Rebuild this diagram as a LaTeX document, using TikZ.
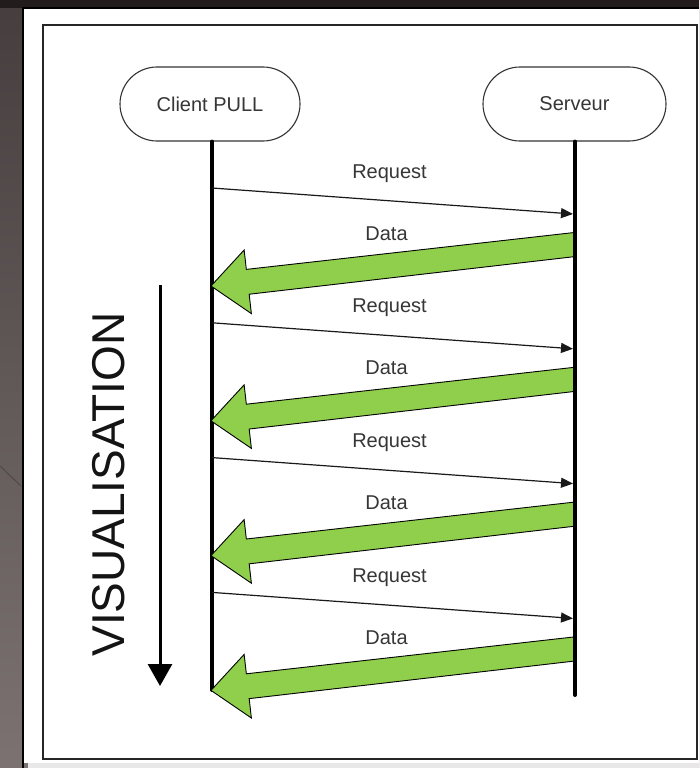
\documentclass[tikz,border=0pt]{standalone}
\usepackage{fontspec}
\setmainfont{Liberation Sans}
\usetikzlibrary{arrows.meta,calc,shapes.misc}

\definecolor{bgtop}{HTML}{463E3E}
\definecolor{bgbot}{HTML}{7C7272}
\definecolor{bgband}{HTML}{221C1C}
\definecolor{datagreen}{HTML}{8FCF4C}
\definecolor{labelgray}{HTML}{363636}

\tikzset{
  actor/.style={rounded rectangle, draw=black!80, line width=1.1pt, fill=white,
    minimum height=74pt, inner sep=0pt, text=labelgray,
    font=\fontsize{20}{24}\selectfont},
  lifeline/.style={line width=4pt, black, line cap=round},
  reqline/.style={line width=1.2pt, black!90, -{Triangle[length=12pt,width=10pt]}},
  dataarrow/.style={fill=datagreen, draw=black, line width=0.9pt, line join=miter},
  msglabel/.style={text=labelgray, font=\fontsize{20}{24}\selectfont, inner sep=0pt, anchor=base},
  timearrow/.style={line width=3pt, black, -{Triangle[length=22pt,width=24pt]}},
}

\begin{document}
\begin{tikzpicture}[x=1pt,y=-1pt]
\useasboundingbox (0,0) rectangle (699,768);

% slide background
\shade[top color=bgtop, bottom color=bgbot] (0,0) rectangle (699,768);
\fill[bgband] (0,0) rectangle (699,8);
\draw[black!35!bgbot, line width=1pt] (0,466) -- (21,486);

% white sheet with its dark edge
\fill[white] (23,8) rectangle (699,763);
\fill[black!9] (28,763) rectangle (699,768);
\draw[black, line width=2.2pt] (23,768) -- (23,8) -- (699,8);

% frame
\draw[black!85, line width=1.6pt] (43,25) rectangle (697,759);

% participants
\node[actor, minimum width=180pt] (client) at (210,104) {Client PULL};
\node[actor, minimum width=183pt] (server) at (574.5,104) {Serveur};

\coordinate (cbot) at (212,690);
\coordinate (sbot) at (575,695);

% client lifeline
\draw[lifeline] (client.south -| cbot) -- (cbot);

% request / data exchanges
\foreach \k in {0,...,3}{
  \pgfmathsetmacro{\dy}{134.8*\k}
  \coordinate (rqA\k) at (212,188+\dy);
  \coordinate (rqB\k) at (573,214+\dy);
  \draw[reqline] (rqA\k) -- (rqB\k);
  \node[msglabel] (rqL\k) at (389.5,178+\dy) {Request};

  \coordinate (dS\k) at (575,244.5+\dy);
  \coordinate (dT\k) at (211,286+\dy);
  \coordinate (dH\k) at ($(dT\k)!37pt!(dS\k)$);
  \filldraw[dataarrow] (dT\k)
     -- ($(dH\k)!32pt!90:(dS\k)$)
     -- ($(dH\k)!12.5pt!90:(dS\k)$)
     -- ($(dS\k)!12pt!-90:(dT\k)$)
     -- ($(dS\k)!12pt!90:(dT\k)$)
     -- ($(dH\k)!12.5pt!-90:(dS\k)$)
     -- ($(dH\k)!32pt!-90:(dS\k)$)
     -- cycle;
  \node[msglabel] (dL\k) at (386.5,240+\dy) {Data};
}

% server lifeline
\draw[lifeline] (server.south -| sbot) -- (sbot);

% time direction
\coordinate (vtop) at (160,285);
\coordinate (vbot) at (160,686);
\draw[timearrow] (vtop) -- (vbot);
\node[rotate=90, inner sep=0pt, text=black!92, font=\fontsize{46}{50}\selectfont] (vis) at (108.5,484.5) {VISUALISATION};
\end{tikzpicture}
\end{document}
